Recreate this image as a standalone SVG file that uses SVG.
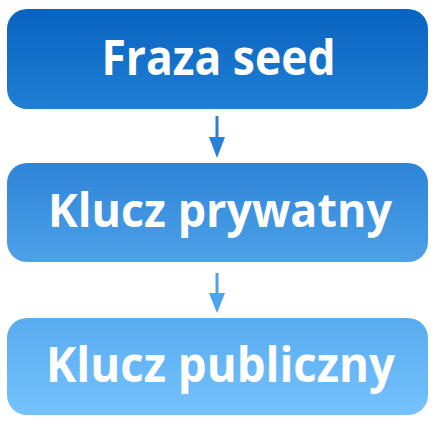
<svg xmlns="http://www.w3.org/2000/svg" width="446" height="426" viewBox="0 0 446 426">
<defs>
<linearGradient id="g1" x1="0" y1="0" x2="0" y2="1"><stop offset="0" stop-color="#0963C0"/><stop offset="1" stop-color="#1F7FD4"/></linearGradient>
<linearGradient id="g2" x1="0" y1="0" x2="0" y2="1"><stop offset="0" stop-color="#2E85D8"/><stop offset="1" stop-color="#4CA1E8"/></linearGradient>
<linearGradient id="g3" x1="0" y1="0" x2="0" y2="1"><stop offset="0" stop-color="#59ACF0"/><stop offset="1" stop-color="#75C2FD"/></linearGradient>
<style>
.lbl{font-family:"Open Sans","Liberation Sans",sans-serif;font-weight:bold;fill:#fff;text-anchor:middle}
</style>
</defs>
<rect width="446" height="426" fill="#fff"/>
<g id="connectors">
<g id="a1" fill="#2A80D6"><rect x="215.5" y="116" width="3" height="22"/><polygon points="209,137 225,137 217,158"/></g>
<g id="a2" fill="#4BA3EE"><rect x="215.5" y="273" width="3" height="21"/><polygon points="209,293 225,293 217,313"/></g>
</g>
<g id="n1"><rect x="7" y="9" width="421" height="100" rx="20" fill="url(#g1)"/><text class="lbl" x="218.5" y="75" font-size="49" textLength="234" lengthAdjust="spacingAndGlyphs">Fraza seed</text></g>
<g id="n2"><rect x="7" y="163" width="421" height="99" rx="20" fill="url(#g2)"/><text class="lbl" x="220" y="227" font-size="47" textLength="344" lengthAdjust="spacingAndGlyphs">Klucz prywatny</text></g>
<g id="n3"><rect x="7" y="318" width="421" height="97" rx="20" fill="url(#g3)"/><text class="lbl" x="220.5" y="382" font-size="48" textLength="349" lengthAdjust="spacingAndGlyphs">Klucz publiczny</text></g>
</svg>
